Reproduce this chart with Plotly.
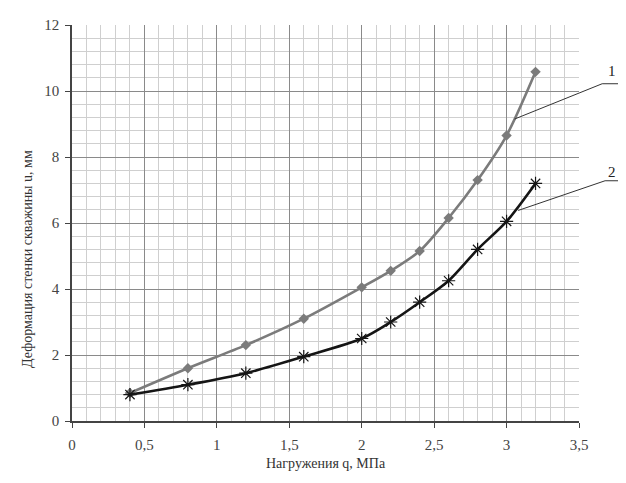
import plotly.graph_objects as go

q = [0.4, 0.8, 1.2, 1.6, 2.0, 2.2, 2.4, 2.6, 2.8, 3.0, 3.2]
u1 = [0.85, 1.6, 2.3, 3.1, 4.05, 4.55, 5.15, 6.15, 7.3, 8.65, 10.58]
u2 = [0.8, 1.1, 1.45, 1.95, 2.5, 3.0, 3.6, 4.25, 5.2, 6.05, 7.2]

x_ticks = [0, 0.5, 1, 1.5, 2, 2.5, 3, 3.5]
x_ticklabels = ["0", "0,5", "1", "1,5", "2", "2,5", "3", "3,5"]
y_ticks = [0, 2, 4, 6, 8, 10, 12]

XMAX = 3.5
FONT = "Liberation Serif"

fig = go.Figure()
fig.add_trace(go.Scatter(
    x=q, y=u1, mode="lines+markers", line=dict(color="#7b7b7b", width=2.6, shape="spline", smoothing=0.8),
    marker=dict(symbol="diamond", size=8, color="#7b7b7b"), showlegend=False))
fig.add_trace(go.Scatter(
    x=q, y=u2, mode="lines+markers", line=dict(color="#151515", width=2.6, shape="spline", smoothing=0.8),
    marker=dict(symbol="asterisk-open", size=11, line=dict(color="#333333", width=1.2)), showlegend=False))

# leader lines for curve labels (x in paper fraction, y in data units)
def px(xv):
    return xv / XMAX

leaders = [
    ((3.055, 9.15), (3.66, 10.22), (3.9, 10.22), "1", 10.6),
    ((3.08, 6.38), (3.68, 7.28), (3.9, 7.28), "2", 7.55),
]
for (a, b, c, label, ly) in leaders:
    fig.add_shape(type="line", xref="paper", yref="y", x0=px(a[0]), y0=a[1], x1=px(b[0]), y1=b[1],
                  line=dict(color="#333333", width=1))
    fig.add_shape(type="line", xref="paper", yref="y", x0=px(b[0]), y0=b[1], x1=px(c[0]), y1=c[1],
                  line=dict(color="#333333", width=1))
    fig.add_annotation(xref="paper", yref="y", x=px(3.77), y=ly, text=label, showarrow=False,
                       font=dict(family=FONT, size=15, color="#222222"))

fig.add_annotation(xref="paper", yref="paper", x=-0.107, y=0.41, text="Деформация стенки скважины u, мм",
                   textangle=-90, showarrow=False, font=dict(family=FONT, size=14, color="#333333"))
fig.add_annotation(xref="paper", yref="paper", x=0.5, y=-0.108, yanchor="middle",
                   text="Нагружения q, МПа", showarrow=False,
                   font=dict(family=FONT, size=14, color="#333333"))

axis_common = dict(showgrid=True, gridcolor="#8a8a8a", gridwidth=1,
                   showline=True, linecolor="#444444", linewidth=1.5,
                   ticks="outside", ticklen=5, tickcolor="#444444",
                   zeroline=False, tickfont=dict(family=FONT, size=15, color="#444444"))
fig.update_xaxes(range=[0, XMAX], tickvals=x_ticks, ticktext=x_ticklabels, ticklabelstandoff=4,
                 minor=dict(dtick=0.1, showgrid=True, gridcolor="#cfcfcf", gridwidth=1), **axis_common)
fig.update_yaxes(range=[0, 12], tickvals=y_ticks, ticklabelstandoff=3,
                 minor=dict(dtick=0.4, showgrid=True, gridcolor="#cfcfcf", gridwidth=1), **axis_common)

fig.update_layout(width=610, height=467, margin=dict(l=64, r=39, t=9, b=54),
                  paper_bgcolor="white", plot_bgcolor="white", separators=", ",
                  font=dict(family=FONT, size=14, color="#333333"))

fig.write_html("out.html")
